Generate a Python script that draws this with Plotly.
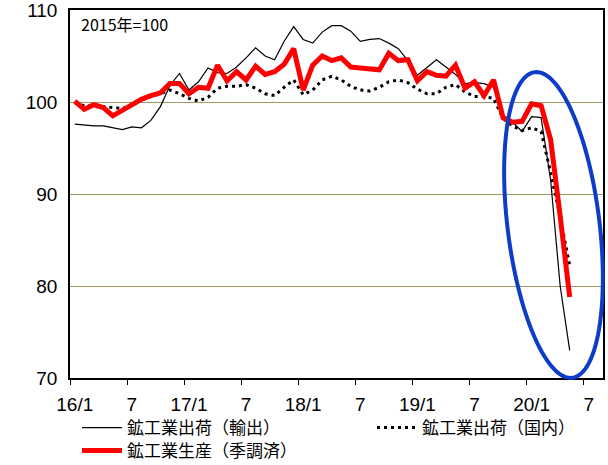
import math
import plotly.graph_objects as go

# ---- data (2016/1 .. 2020/5), 2015=100 ----
tick_pos = [0, 6, 12, 18, 24, 30, 36, 42, 48, 54]
tick_text = ["16/1", "7", "17/1", "7", "18/1", "7", "19/1", "7", "20/1", "7"]

export_ship = [97.6, 97.5, 97.4, 97.4, 97.2, 97.0, 97.3, 97.2, 98.0, 99.5,
               101.8, 103.1, 101.3, 102.2, 103.7, 103.2, 103.1, 103.8, 104.8, 105.9,
               105.0, 104.6, 106.6, 108.2, 106.8, 106.4, 107.6, 108.3, 108.3, 107.7,
               106.6, 106.8, 106.9, 106.4, 105.8, 104.5, 102.9, 103.8, 104.6, 103.8,
               103.0, 102.0, 102.1, 102.0, 101.6, 98.6, 97.8, 96.8, 98.4, 98.3,
               91.5, 80.0, 73.0]
domestic_ship = [99.9, 99.6, 99.6, 99.5, 99.4, 99.3, 99.7, 100.2, 100.6, 100.9,
                 101.3, 100.9, 100.4, 100.1, 100.5, 101.5, 101.7, 101.7, 101.9, 101.5,
                 100.9, 100.7, 101.6, 102.4, 100.8, 101.3, 102.4, 102.8, 102.4, 101.7,
                 101.3, 101.2, 101.6, 102.2, 102.4, 102.1, 101.4, 100.9, 100.9, 101.6,
                 101.9, 101.1, 100.6, 100.6, 100.4, 98.2, 97.4, 96.9, 97.2, 96.8,
                 92.3, 87.5, 82.2]
production_sa = [100.1, 99.2, 99.7, 99.4, 98.5, 99.1, 99.7, 100.3, 100.7, 101.0,
                 102.0, 102.0, 100.9, 101.6, 101.5, 104.0, 102.3, 103.3, 102.4, 103.9,
                 103.0, 103.3, 104.1, 105.8, 101.3, 104.0, 105.0, 104.5, 104.8, 103.8,
                 103.7, 103.6, 103.5, 105.3, 104.5, 104.6, 102.3, 103.3, 102.9, 102.8,
                 104.0, 101.5, 102.2, 100.7, 102.4, 98.3, 97.8, 97.9, 99.8, 99.6,
                 95.9, 87.6, 78.8]

x_idx = list(range(len(production_sa)))

FONT = "Noto Sans CJK JP"
NUMFONT = "Liberation Sans"

# plot area geometry (pixels)
L, R, T, B = 70, 5, 10, 87
W, H = 608, 465
pw, ph = W - L - R, H - T - B

def to_paper(px, py):
    return (px - L) / pw, (H - B - py) / ph

fig = go.Figure()
fig.add_trace(go.Scatter(x=x_idx, y=export_ship, mode="lines", name="鉱工業出荷（輸出）",
                         line=dict(color="black", width=1.2), legend="legend"))
fig.add_trace(go.Scatter(x=x_idx, y=domestic_ship, mode="lines", name="鉱工業出荷（国内）",
                         line=dict(color="black", width=3, dash="3px,4px"), legend="legend2"))
fig.add_trace(go.Scatter(x=x_idx, y=production_sa, mode="lines", name="鉱工業生産（季調済）",
                         line=dict(color="#ff0000", width=5), legend="legend3"))

# tilted ellipse highlighting the 2020 drop
cx, cy, a, b, phi = 553.5, 225.0, 154.0, 46.0, math.radians(7)
pts = []
for k in range(0, 121):
    t = 2 * math.pi * k / 120
    px = cx + a * math.sin(t) * math.sin(phi) + b * math.cos(t) * math.cos(phi)
    py = cy + a * math.sin(t) * math.cos(phi) - b * math.cos(t) * math.sin(phi)
    xp, yp = to_paper(px, py)
    pts.append(f"{xp:.5f},{yp:.5f}")
path = "M" + " L".join(pts) + " Z"
fig.add_shape(type="path", path=path, xref="paper", yref="paper",
              line=dict(color="#0c3cc8", width=4), layer="above")

fig.add_annotation(text="2015年=100", xref="paper", yref="paper",
                   x=to_paper(79, 0)[0], y=to_paper(0, 24)[1], xanchor="left", yanchor="middle",
                   showarrow=False, font=dict(family=FONT, size=16, color="black"))

leg_common = dict(orientation="v", xanchor="left", yanchor="middle", itemwidth=40,
                  font=dict(family=FONT, size=17), bgcolor="rgba(0,0,0,0)")
lx1 = to_paper(77, 0)[0]
lx2 = to_paper(372, 0)[0]
ly1 = to_paper(0, 428)[1]
ly2 = to_paper(0, 451)[1]

fig.update_layout(
    width=W, height=H,
    margin=dict(l=L, r=R, t=T, b=B, autoexpand=False),
    paper_bgcolor="white", plot_bgcolor="white",
    font=dict(family=FONT, color="black", size=18),
    showlegend=True,
    legend=dict(x=lx1, y=ly1, **leg_common),
    legend2=dict(x=lx2, y=ly1, **leg_common),
    legend3=dict(x=lx1, y=ly2, **leg_common),
    xaxis=dict(range=[-0.5, 55.5], tickvals=tick_pos, ticktext=tick_text, ticks="",
               showgrid=False, zeroline=False, showline=True, mirror=True,
               linecolor="black", linewidth=1.5, ticklabelstandoff=8,
               tickfont=dict(family=NUMFONT, size=19),
               minor=dict(tickvals=[p - 0.5 for p in tick_pos] + [59.5], ticks="outside",
                          ticklen=5, tickcolor="black", tickwidth=1, showgrid=False)),
    yaxis=dict(range=[70, 110.001], tickvals=[70, 80, 90, 100, 110], ticks="",
               showgrid=True, gridcolor="#a09866", gridwidth=1.2, zeroline=False,
               showline=True, mirror=True, linecolor="black", linewidth=1.5,
               ticklabeloverflow="allow",
               tickfont=dict(family=NUMFONT, size=19), ticklabelstandoff=7),
)

fig.write_html("out.html", config={"displayModeBar": False},
               post_script="document.body.style.margin='0';")
